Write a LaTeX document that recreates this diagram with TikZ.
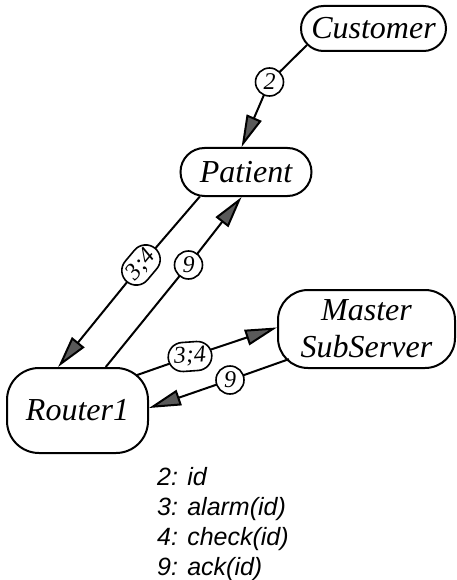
\documentclass[tikz,border=0pt]{standalone}
\usepackage{fontspec}
\setmainfont{Liberation Serif}
\newfontfamily\legendfont{Liberation Sans}
\usetikzlibrary{arrows.meta,shapes.misc,backgrounds}
\begin{document}
\begin{tikzpicture}[x=1pt,y=-1pt,
  pill/.style={rounded rectangle, draw, line width=2pt, inner sep=0pt,
    font=\fontsize{32}{37}\selectfont\itshape, align=center},
  roundbox/.style={rectangle, rounded corners=#1, draw, line width=2pt, inner sep=0pt,
    font=\fontsize{32}{37}\selectfont\itshape, align=center},
  link/.style={line width=2pt},
  msg/.style={line width=2pt,
    -{Triangle[length=32pt,width=16pt,fill=black!65]}},
  numlabel/.style={circle, draw, line width=1.6pt, fill=white, inner sep=0pt,
    minimum size=28pt, font=\fontsize{24}{26}\selectfont\itshape},
  pairlabel/.style={rounded rectangle, draw, line width=1.6pt, fill=white,
    inner xsep=2pt, inner ysep=1pt, minimum height=29pt,
    font=\fontsize{24}{26}\selectfont\itshape}]
\useasboundingbox (0,0) rectangle (456,580);

% participants
\node[pill, minimum width=145pt, minimum height=45pt] (cust) at (373.5,28.5) {Customer};
\node[pill, minimum width=131pt, minimum height=48pt] (pat) at (246,172) {Patient};
\node[roundbox=32pt, minimum width=141pt, minimum height=85pt] (rout) at (77.5,410.5) {Router1};
\node[roundbox=30pt, minimum width=177pt, minimum height=78pt] (mast) at (366.5,329) {Master\\SubServer};

% message labels
\node[numlabel] (m2) at (269.5,82) {2};
\node[pairlabel, rotate=50] (m34a) at (141,265) {3;4};
\node[numlabel] (m9a) at (188.5,265) {9};
\node[pairlabel, rotate=4] (m34b) at (190,356.5) {3;4};
\node[numlabel] (m9b) at (230,380) {9};

% messages, routed through their labels
\begin{scope}[on background layer]
  \draw[link] (cust.194) -- (m2.center);
  \draw[msg] (m2.center) -- (pat.100.2);
  \draw[msg] (pat.208) -- (m34a.center) -- (rout.114.1);
  \draw[msg] (rout.57.1) -- (m9a.center) -- (pat.260.5);
  \draw[link, shorten <=-13.7pt] (rout.29.4) -- (m34b.center);
  \draw[msg] (m34b.center) -- (mast.179.4);
  \draw[link, shorten <=-12.6pt] (mast.201.6) -- (m9b.center);
  \draw[msg] (m9b.center) -- (rout.2);
\end{scope}

% legend
\node[anchor=north west, align=left, inner sep=0pt,
  font=\legendfont\fontsize{25}{30}\selectfont\itshape] (legend) at (157,467)
  {2: id\\3: alarm(id)\\4: check(id)\\9: ack(id)};
\end{tikzpicture}
\end{document}
